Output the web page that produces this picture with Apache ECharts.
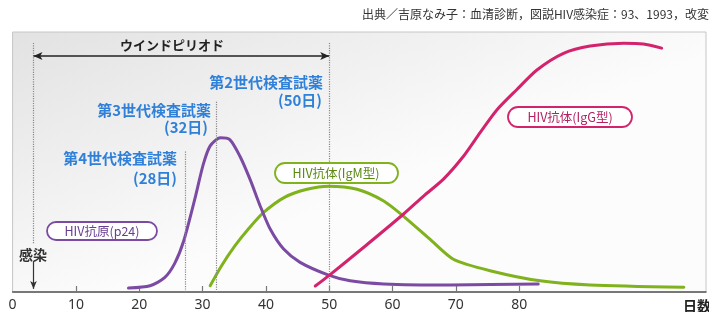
<!DOCTYPE html>
<html>
<head>
<meta charset="utf-8">
<title>HIV検査とウインドピリオド</title>
<script src="https://cdn.jsdelivr.net/npm/echarts@6/dist/echarts.min.js"></script>
<style>
  html, body { margin: 0; padding: 0; background: #fff; }
  #chart { width: 709px; height: 312px; }
</style>
</head>
<body>
<div id="chart"></div>
<script>
// [days after infection, relative level 0-100]
var p24Antigen = [
  [18.3, 1.5], [21.7, 2.4], [24.0, 5.5], [25.6, 11.0], [27.0, 19.5], [28.8, 36.0], [30.1, 49.0],
  [31.2, 56.2], [32.8, 59.3], [34.3, 58.6], [35.9, 52.2], [37.5, 43.3], [39.1, 33.1],
  [40.7, 24.1], [42.8, 16.5], [45.4, 11.4], [49.9, 6.5], [53.3, 4.3], [58.6, 3.1],
  [69.1, 2.7], [83.0, 3.1]
];
var igmAntibody = [
  [31.2, 2.4], [33.0, 10.1], [35.1, 17.7], [37.2, 24.1], [39.6, 30.5], [43.0, 36.5],
  [46.5, 39.5], [49.9, 40.7], [54.4, 39.5], [58.6, 35.0], [61.7, 29.2], [65.9, 20.3], [69.6, 12.6],
  [75.4, 8.2], [83.3, 4.3], [91.2, 2.7], [106.0, 1.8]
];
var iggAntibody = [
  [47.8, 2.3], [49.9, 6.2], [55.7, 17.7], [61.7, 29.9], [64.9, 36.9], [68.0, 43.3],
  [71.2, 52.2], [73.8, 61.2], [76.5, 70.1], [79.6, 77.8], [82.8, 85.4], [87.0, 91.8],
  [91.2, 94.6], [96.5, 95.7], [99.6, 95.4], [102.5, 93.8]
];
var tickLabels = [0, 10, 20, 30, 40, 50, 60, 70, 80];
var tickMarks = [10, 20, 30, 40, 50, 60, 70, 80];

var infectionDay = 3.3;
var gen4Day = 27.3;   // 第4世代 (28日)
var gen3Day = 32.1;   // 第3世代 (32日)
var gen2Day = 50;     // 第2世代 (50日)

var JP = '"Noto Sans CJK JP", "Noto Sans", sans-serif';
var PURPLE = '#7b4ba3', GREEN = '#7fb21c', PINK = '#d3236d', BLUE = '#2f80d9';

var chart = echarts.init(document.getElementById('chart'), null, { renderer: 'canvas' });

function curve(name, data, color, z) {
  return {
    name: name, type: 'line', data: data, smooth: 0.25, symbol: 'none', z: z,
    lineStyle: { color: color, width: 3, cap: 'round' }
  };
}

function vline(day, top, bottom) {
  return [{ coord: [day, top] }, { coord: [day, bottom] }];
}

var dotted = { color: '#8a8a8a', type: 'dotted', width: 1.2 };

var option = {
  animation: false,
  grid: {
    left: 12.6, right: 3, top: 32, bottom: 19,
    show: true,
    borderColor: '#c6c6c6', borderWidth: 1,
    backgroundColor: new echarts.graphic.LinearGradient(0, 0, 0.15, 1, [
      { offset: 0, color: '#e2e2e2' },
      { offset: 1, color: '#fcfcfc' }
    ])
  },
  xAxis: {
    type: 'value', min: 0, max: 109.5,
    axisLine: { lineStyle: { color: '#555', width: 1.5 } },
    axisTick: { inside: true, length: 6, customValues: tickMarks, lineStyle: { color: '#777', width: 1.2 } },
    axisLabel: { customValues: tickLabels, margin: 6, color: '#333', fontSize: 14, fontFamily: '"Noto Sans", sans-serif' },
    splitLine: { show: false }
  },
  yAxis: {
    type: 'value', min: 0, max: 100,
    show: false
  },
  series: [
    {
      type: 'line', data: [], z: 1, silent: true,
      markLine: {
        silent: true, symbol: ['none', 'none'], label: { show: false },
        lineStyle: dotted,
        data: [
          vline(infectionDay, 95.8, 18.4),
          vline(gen2Day, 95.8, 0),
          vline(gen3Day, 73.2, 0),
          vline(gen4Day, 54, 0),
          [
            { coord: [infectionDay, 90.8], symbol: 'arrow', symbolSize: [6, 9], lineStyle: { color: '#222', type: 'solid', width: 1.5 } },
            { coord: [gen2Day, 90.8], symbol: 'arrow', symbolSize: [6, 9] }
          ],
          [
            { coord: [infectionDay, 11.9], symbol: 'none', lineStyle: { color: '#333', type: 'solid', width: 1.2 } },
            { coord: [infectionDay, 1.2], symbol: 'arrow', symbolSize: [5, 8] }
          ]
        ]
      }
    },
    curve('HIV抗体(IgM型)', igmAntibody, GREEN, 3),
    curve('HIV抗原(p24)', p24Antigen, PURPLE, 4),
    curve('HIV抗体(IgG型)', iggAntibody, PINK, 5)
  ],
  graphic: [
    { type: 'text', x: 709, y: 14, z: 10, style: { text: '出典／吉原なみ子：血清診断，図説HIV感染症：93、1993，改変', align: 'right', verticalAlign: 'middle', font: '12px ' + JP, fill: '#333' } },
    { type: 'text', x: 172, y: 45, z: 10, style: { text: 'ウインドピリオド', align: 'center', verticalAlign: 'middle', font: 'bold 13px ' + JP, fill: '#222' } },
    { type: 'text', x: 323, y: 82, z: 10, style: { text: '第2世代検査試薬', align: 'right', verticalAlign: 'middle', font: 'bold 15px ' + JP, fill: BLUE } },
    { type: 'text', x: 322, y: 100, z: 10, style: { text: '(50日)', align: 'right', verticalAlign: 'middle', font: 'bold 15px ' + JP, fill: BLUE } },
    { type: 'text', x: 211, y: 110, z: 10, style: { text: '第3世代検査試薬', align: 'right', verticalAlign: 'middle', font: 'bold 15px ' + JP, fill: BLUE } },
    { type: 'text', x: 208, y: 127, z: 10, style: { text: '(32日)', align: 'right', verticalAlign: 'middle', font: 'bold 15px ' + JP, fill: BLUE } },
    { type: 'text', x: 177, y: 158, z: 10, style: { text: '第4世代検査試薬', align: 'right', verticalAlign: 'middle', font: 'bold 15px ' + JP, fill: BLUE } },
    { type: 'text', x: 177, y: 178, z: 10, style: { text: '(28日)', align: 'right', verticalAlign: 'middle', font: 'bold 15px ' + JP, fill: BLUE } },
    { type: 'text', x: 33, y: 255, z: 10, style: { text: '感染', align: 'center', verticalAlign: 'middle', font: 'bold 14px ' + JP, fill: '#333' } },
    { type: 'text', x: 683, y: 306, z: 10, style: { text: '日数', align: 'left', verticalAlign: 'middle', font: 'bold 14px ' + JP, fill: '#222' } },

    { type: 'rect', z: 10, shape: { x: 47, y: 222, width: 110, height: 18, r: 9 }, style: { fill: '#fff', stroke: PURPLE, lineWidth: 1.8 } },
    { type: 'text', z: 11, x: 102, y: 231, style: { text: 'HIV抗原(p24)', align: 'center', verticalAlign: 'middle', font: '12.5px ' + JP, fill: '#6a3d91' } },
    { type: 'rect', z: 10, shape: { x: 275, y: 163, width: 123, height: 20, r: 10 }, style: { fill: '#fff', stroke: GREEN, lineWidth: 1.8 } },
    { type: 'text', z: 11, x: 336, y: 173, style: { text: 'HIV抗体(IgM型)', align: 'center', verticalAlign: 'middle', font: '12.5px ' + JP, fill: '#5a8a14' } },
    { type: 'rect', z: 10, shape: { x: 508, y: 107, width: 124, height: 20, r: 10 }, style: { fill: '#fff', stroke: PINK, lineWidth: 1.8 } },
    { type: 'text', z: 11, x: 570, y: 117, style: { text: 'HIV抗体(IgG型)', align: 'center', verticalAlign: 'middle', font: '12.5px ' + JP, fill: '#b52062' } }
  ]
};

chart.setOption(option);
</script>
</body>
</html>
